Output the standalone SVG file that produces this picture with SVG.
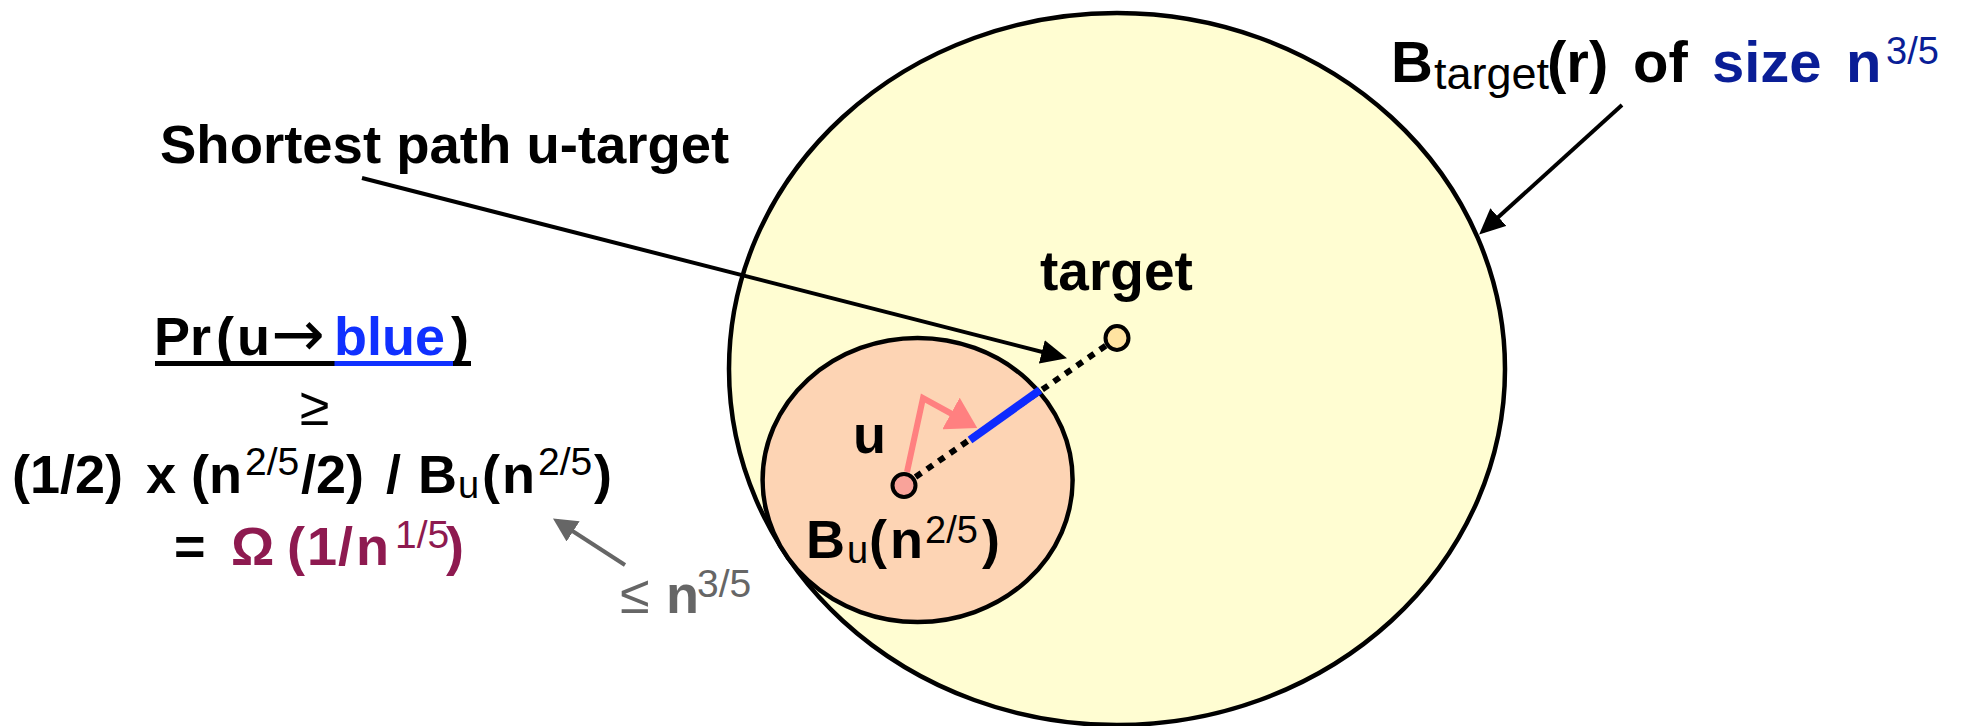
<svg xmlns="http://www.w3.org/2000/svg" width="1962" height="726" viewBox="0 0 1962 726">
<style>
.t{font-family:"Liberation Sans",Arial,sans-serif;font-weight:bold;fill:#000}
.r{font-weight:normal}
.arr{font-family:"DejaVu Sans",sans-serif;font-weight:normal}
.blk{stroke:#000;stroke-width:4;fill:none}
</style>
<defs>
<marker id="ah" viewBox="0 0 10 10" refX="8" refY="5" markerUnits="userSpaceOnUse" markerWidth="26" markerHeight="24" preserveAspectRatio="none" orient="auto"><path d="M0,0 L10,5 L0,10 z" fill="#000"/></marker>
<marker id="ahg" viewBox="0 0 10 10" refX="8" refY="5" markerUnits="userSpaceOnUse" markerWidth="24" markerHeight="24" preserveAspectRatio="none" orient="auto"><path d="M0,0 L10,5 L0,10 z" fill="#666"/></marker>
<marker id="ahp" viewBox="0 0 10 10" refX="8" refY="5" markerUnits="userSpaceOnUse" markerWidth="30" markerHeight="36" preserveAspectRatio="none" orient="auto"><path d="M0,0 L10,5 L0,10 z" fill="#FF8080"/></marker>
</defs>
<g id="ball-target">
<ellipse cx="1117" cy="369" rx="388" ry="356" fill="#FFFDD2" stroke="#000" stroke-width="4.5"/>
</g>
<g id="ball-u">
<ellipse cx="917.6" cy="480" rx="155" ry="142" fill="#FDD4B4" stroke="#000" stroke-width="4.5"/>
</g>
<g id="connectors">
<line x1="904" y1="485" x2="1117" y2="338" stroke="#000" stroke-width="6" stroke-dasharray="7 7"/>
<line x1="970" y1="440" x2="1040" y2="390" stroke="#0D2BFF" stroke-width="8"/>
<polyline points="907,472 923,398 972,425" fill="none" stroke="#FF8080" stroke-width="6" marker-end="url(#ahp)"/>
<line x1="362" y1="178" x2="1062" y2="357" class="blk" marker-end="url(#ah)"/>
<line x1="1622" y1="105" x2="1483" y2="231" class="blk" marker-end="url(#ah)"/>
<line x1="625" y1="565" x2="557" y2="521" stroke="#666" stroke-width="4" marker-end="url(#ahg)"/>
</g>
<g id="node-u">
<circle cx="904" cy="485.5" r="11.5" fill="#F9A39A" stroke="#000" stroke-width="4"/>
<text class="t" x="853" y="453" font-size="54">u</text>
<text class="t" y="558" font-size="54"><tspan x="806">B</tspan><tspan class="r" x="847" y="563" font-size="38">u</tspan><tspan x="869" y="558">(</tspan><tspan x="890">n</tspan><tspan class="r" x="925" y="543" font-size="38">2/5</tspan><tspan x="982" y="558">)</tspan></text>
</g>
<g id="node-target">
<ellipse cx="1117" cy="338" rx="11.5" ry="12" fill="#FFE3A1" stroke="#000" stroke-width="4"/>
<text class="t" x="1040" y="290" font-size="55">target</text>
</g>
<g id="label-shortest">
<text class="t" x="160" y="163" font-size="54.5">Shortest path u-target</text>
</g>
<g id="label-btarget">
<text class="t" y="82" font-size="58"><tspan x="1391">B</tspan><tspan class="r" x="1434" y="89" font-size="45">target</tspan><tspan x="1547" y="82">(r)</tspan><tspan x="1633">of</tspan><tspan x="1712" fill="#0A1E96">size</tspan><tspan x="1846" fill="#0A1E96">n</tspan><tspan class="r" x="1886" y="64" font-size="38" fill="#0A1E96">3/5</tspan></text>
</g>
<g id="formula">
<text class="t" y="355" font-size="54"><tspan x="154">Pr</tspan><tspan x="216">(</tspan><tspan x="237">u</tspan><tspan class="arr" x="271" y="356" font-size="64">→</tspan><tspan x="334" y="355" fill="#1030FF">blue</tspan><tspan x="451">)</tspan></text>
<rect x="155" y="361" width="180" height="5" fill="#000"/>
<rect x="334.5" y="361" width="119" height="5" fill="#1030FF"/>
<rect x="453" y="361" width="18" height="5" fill="#000"/>
<text class="t r" x="314.5" y="425" font-size="54" text-anchor="middle">≥</text>
<text class="t" y="493" font-size="54"><tspan x="12">(1/2)</tspan><tspan x="146">x</tspan><tspan x="191">(n</tspan><tspan class="r" x="245" y="475" font-size="39">2/5</tspan><tspan x="301" y="493">/2)</tspan><tspan x="386">/</tspan><tspan x="418">B</tspan><tspan class="r" x="458" y="498" font-size="38">u</tspan><tspan x="482" y="493">(</tspan><tspan x="502">n</tspan><tspan class="r" x="538" y="475" font-size="39">2/5</tspan><tspan x="594" y="493">)</tspan></text>
<text class="t" y="565" font-size="54"><tspan x="174">=</tspan><tspan x="231" fill="#8E1A50">Ω</tspan><tspan x="287" fill="#8E1A50">(</tspan><tspan x="307" fill="#8E1A50">1</tspan><tspan x="338" fill="#8E1A50">/</tspan><tspan x="356" fill="#8E1A50">n</tspan><tspan class="r" x="395" y="548" font-size="39" fill="#8E1A50">1/5</tspan><tspan x="446" y="565" fill="#8E1A50">)</tspan></text>
<text class="t" y="613" font-size="54" fill="#666"><tspan class="r" x="620" fill="#666">≤</tspan><tspan x="666" fill="#666">n</tspan><tspan class="r" x="697" y="597" font-size="39" fill="#666">3/5</tspan></text>
</g>
</svg>
